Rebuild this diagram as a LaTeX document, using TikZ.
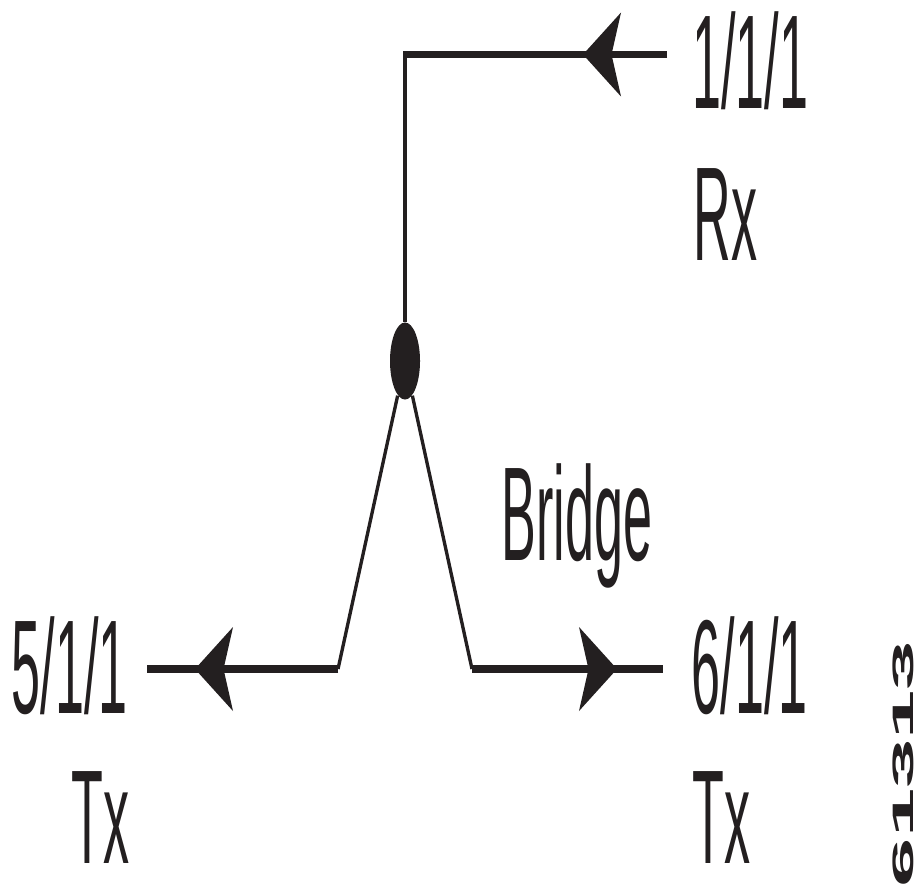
\documentclass[tikz,border=0pt]{standalone}
\usepackage{fontspec}
\usepackage{tikz}
\usetikzlibrary{arrows.meta,shapes.geometric}
\newfontfamily\condsf[FakeStretch=0.39]{Liberation Sans}
\newfontfamily\widesf[FakeStretch=3.0]{Liberation Sans Bold}
\definecolor{ink}{HTML}{231F20}
\tikzset{
  lbl/.style={inner sep=0pt, anchor=base west, text=ink, font={\condsf\fontsize{38}{40}\selectfont}},
  wire/.style={draw=ink, line width=0.95pt},
  feed/.style={draw=ink, line width=2.1pt},
  dirtip/.style={-{Stealth[length=3.8mm, width=8.4mm, inset=0.95mm, line width=0pt]}},
}

\begin{document}
\begin{tikzpicture}[x=0.01cm, y=-0.01cm]
    \useasboundingbox (0,0) rectangle (919,890);
    % bridge point
    \node[ellipse, fill=ink, inner sep=0pt, minimum width=0.3cm, minimum height=0.77cm] (br) at (405,361) {};

    % port labels
    \node[lbl] (rxport) at (691.5,108) {1/1/1};
    \node[lbl] (rx) at (693,260) {Rx};
    \node[lbl] (bridge) at (501,560) {Bridge};
    \node[lbl] (txa) at (11,713) {5/1/1};
    \node[lbl] (txalbl) at (71,863) {Tx};
    \node[lbl] (txb) at (691,713) {6/1/1};
    \node[lbl] (txblbl) at (692,863) {Tx};
    \node[inner sep=0pt, anchor=base east, rotate=90, text=ink, font={\widesf\fontsize{8.4}{10}\selectfont}] (fignum) at (913,640) {61313};

    % wire ends
    \coordinate (tl) at (403,54.5);
    \coordinate (tr) at (667,54.5);
    \coordinate (ta) at (583,54.5);
    \coordinate (lc) at (338,669);
    \coordinate (le) at (147,669);
    \coordinate (la) at (195,669);
    \coordinate (rc) at (472,669);
    \coordinate (re) at (663,669);
    \coordinate (ra) at (617,669);

    % receive side
    \draw[wire] (br.north) -- (br.north |- tl);
    \draw[feed] (tl) -- (tr);
    \draw[feed, dirtip] (tr) -- (ta);

    % transmit sides
    \draw[wire] (br.258) -- (lc);
    \draw[feed] (lc) -- (le);
    \draw[feed, dirtip] (lc) -- (la);
    \draw[wire] (br.282) -- (rc);
    \draw[feed] (rc) -- (re);
    \draw[feed, dirtip] (rc) -- (ra);
\end{tikzpicture}
\end{document}
